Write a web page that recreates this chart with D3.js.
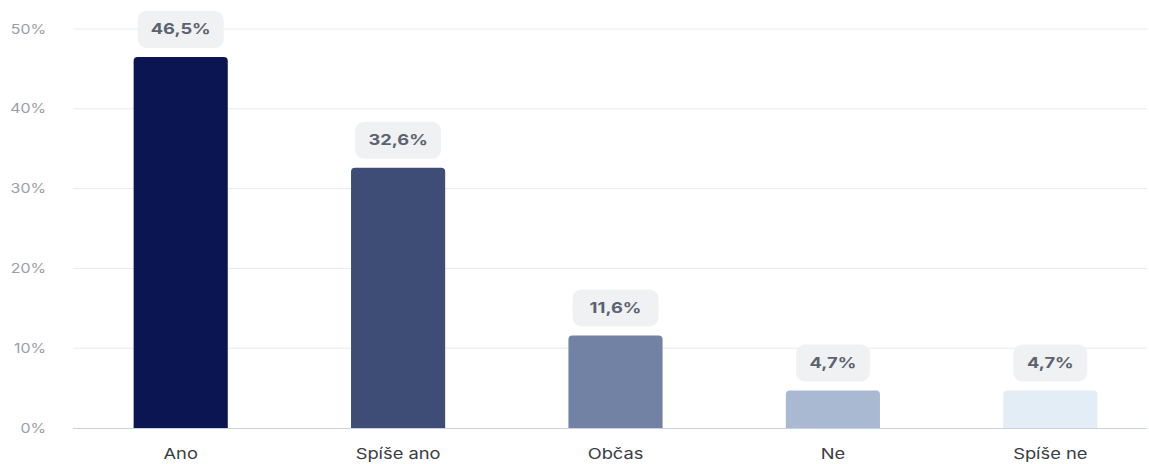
<!DOCTYPE html>
<html>
<head>
  <meta charset="utf-8">
  <title>Bar chart</title>
  <style>
    body { margin: 0; background: #fff; }
    svg { display: block; font-family: Inter, "Noto Sans", sans-serif; }
  </style>
</head>
<body>
  <svg width="1149" height="464"></svg>
  <script src="https://cdn.jsdelivr.net/npm/d3@7"></script>
  <script>
  // data
  var categories = ["Ano", "Spíše ano", "Občas", "Ne", "Spíše ne"];
  var values = [46.5, 32.6, 11.6, 4.7, 4.7];
  var labels = ["46,5%", "32,6%", "11,6%", "4,7%", "4,7%"];
  var colors = ["#0a1551", "#3d4d75", "#7282a4", "#a9b9d1", "#e3edf5"];
  var yTicks = [0, 10, 20, 30, 40, 50];

  // text in the reference looks horizontally stretched
  var stretch = 1.22;

  var svg = d3.select("svg");

  var x = d3.scaleBand()
    .domain(categories)
    .range([72, 1159])
    .paddingInner(0.567)
    .paddingOuter(0.2835);

  var y = d3.scaleLinear()
    .domain([0, 50])
    .range([428, 29]);

  // grid lines
  svg.append("g")
    .selectAll("line")
    .data(yTicks.filter(function(d) { return d > 0; }))
    .enter()
    .append("line")
    .attr("x1", 73)
    .attr("x2", 1147)
    .attr("y1", function(d) { return y(d); })
    .attr("y2", function(d) { return y(d); })
    .attr("stroke", "#e9eaec")
    .attr("stroke-width", 1);

  // y axis labels
  svg.append("g")
    .selectAll("g")
    .data(yTicks)
    .enter()
    .append("g")
    .attr("transform", function(d) { return "translate(46," + y(d) + ") scale(" + stretch + ",1)"; })
    .append("text")
    .attr("text-anchor", "end")
    .attr("dy", "0.35em")
    .attr("fill", "#9a9ea6")
    .attr("font-size", 13)
    .text(function(d) { return d + "%"; });

  // bars with rounded top
  function barPath(d, i) {
    var x0 = x(categories[i]), w = x.bandwidth();
    var y0 = y(d), y1 = y(0), r = 4;
    return "M" + x0 + "," + y1 +
      "V" + (y0 + r) +
      "Q" + x0 + "," + y0 + " " + (x0 + r) + "," + y0 +
      "H" + (x0 + w - r) +
      "Q" + (x0 + w) + "," + y0 + " " + (x0 + w) + "," + (y0 + r) +
      "V" + y1 + "Z";
  }

  svg.append("g")
    .selectAll("path")
    .data(values)
    .enter()
    .append("path")
    .attr("d", barPath)
    .attr("fill", function(d, i) { return colors[i]; });

  // baseline
  svg.append("line")
    .attr("x1", 73)
    .attr("x2", 1147)
    .attr("y1", y(0) + 0.5)
    .attr("y2", y(0) + 0.5)
    .attr("stroke", "#c9d1ec")
    .attr("stroke-width", 1);

  // value pills
  var pills = svg.append("g")
    .selectAll("g")
    .data(values)
    .enter()
    .append("g")
    .attr("transform", function(d, i) {
      return "translate(" + (x(categories[i]) + x.bandwidth() / 2) + "," + (y(d) - 28) + ")";
    });

  pills.append("rect")
    .attr("x", function(d, i) { return labels[i].length > 4 ? -43 : -37; })
    .attr("y", -18)
    .attr("width", function(d, i) { return labels[i].length > 4 ? 86 : 74; })
    .attr("height", 37)
    .attr("rx", 9)
    .attr("fill", "#f0f1f2");

  pills.append("text")
    .attr("transform", "scale(" + stretch + ",1)")
    .attr("text-anchor", "middle")
    .attr("dy", "0.35em")
    .attr("font-size", 15)
    .attr("font-weight", 700)
    .attr("fill", "#5b6270")
    .text(function(d, i) { return labels[i]; });

  // x labels
  svg.append("g")
    .selectAll("g")
    .data(categories)
    .enter()
    .append("g")
    .attr("transform", function(d) {
      return "translate(" + (x(d) + x.bandwidth() / 2) + ",454) scale(" + stretch + ",1)";
    })
    .append("text")
    .attr("dy", "0.35em")
    .attr("text-anchor", "middle")
    .attr("font-size", 15)
    .attr("fill", "#3a3d44")
    .text(function(d) { return d; });
  </script>
</body>
</html>
